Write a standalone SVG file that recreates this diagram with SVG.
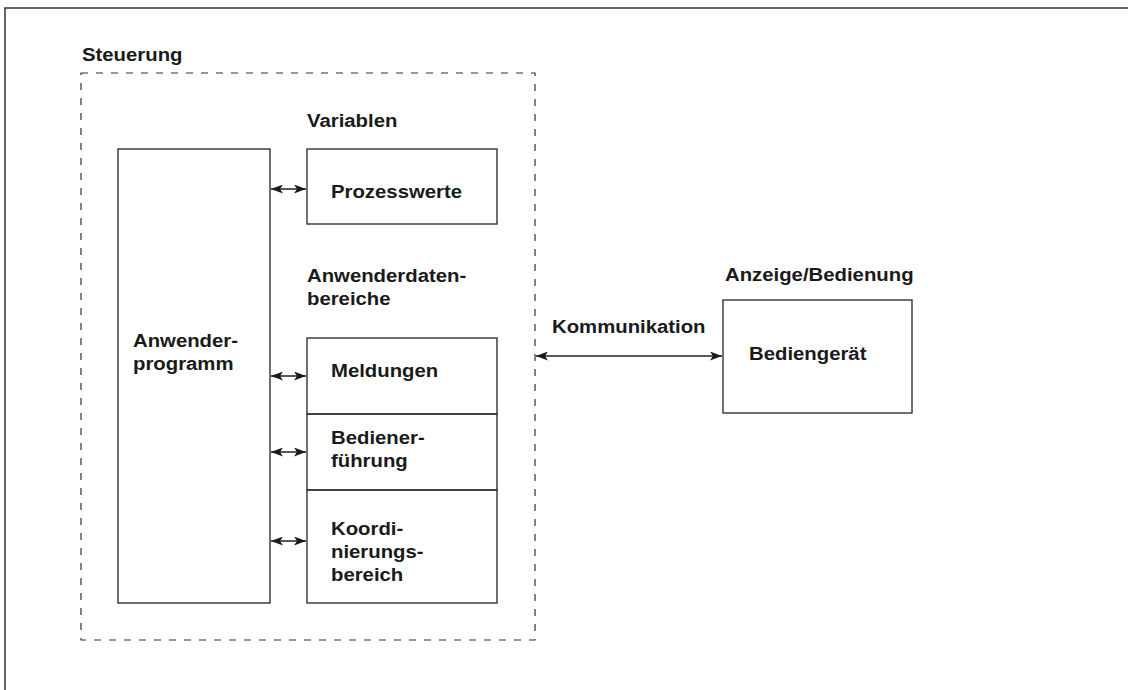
<svg xmlns="http://www.w3.org/2000/svg" width="1128" height="690" viewBox="0 0 1128 690">
<style>
.t{font-family:"Liberation Sans",Arial,sans-serif;font-weight:bold;font-size:18px;fill:#1a1a1a}
.box{fill:none;stroke:#333;stroke-width:1.4}
.dash{fill:none;stroke:#333;stroke-width:1.2;stroke-dasharray:7 8}
.con{fill:none;stroke:#222;stroke-width:1.4;marker-start:url(#ah);marker-end:url(#ah)}
</style>
<defs>
<marker id="ah" viewBox="0 0 12 9" refX="12" refY="4.5" markerWidth="12" markerHeight="9" markerUnits="userSpaceOnUse" orient="auto-start-reverse">
<path d="M0,0 L12,4.5 L0,9 L3,4.5 Z" fill="#1a1a1a"/>
</marker>
</defs>
<rect width="1128" height="690" fill="#fff"/>
<path d="M5,690 V8 H1128" fill="none" stroke="#333" stroke-width="1.5"/>
<g id="steuerung">
<rect class="dash" x="81" y="73" width="454" height="567"/>
<text class="t" transform="translate(82,61) scale(1.13,1)">Steuerung</text>
</g>
<g id="anwenderprogramm">
<rect class="box" x="118" y="149" width="152" height="454"/>
<text class="t" transform="translate(133,347) scale(1.13,1)"><tspan x="0" y="0">Anwender-</tspan><tspan x="0" y="23">programm</tspan></text>
</g>
<g id="variablen">
<text class="t" transform="translate(307,127) scale(1.13,1)">Variablen</text>
</g>
<g id="prozesswerte">
<rect class="box" x="307" y="149" width="190" height="75"/>
<text class="t" transform="translate(331,198) scale(1.13,1)">Prozesswerte</text>
</g>
<g id="anwenderdatenbereiche">
<text class="t" transform="translate(307,282) scale(1.13,1)"><tspan x="0" y="0">Anwenderdaten-</tspan><tspan x="0" y="23">bereiche</tspan></text>
</g>
<g id="meldungen">
<rect class="box" x="307" y="338" width="190" height="76"/>
<text class="t" transform="translate(331,377) scale(1.13,1)">Meldungen</text>
</g>
<g id="bedienerfuehrung">
<rect class="box" x="307" y="414" width="190" height="76"/>
<text class="t" transform="translate(331,444) scale(1.13,1)"><tspan x="0" y="0">Bediener-</tspan><tspan x="0" y="23">führung</tspan></text>
</g>
<g id="koordinierungsbereich">
<rect class="box" x="307" y="490" width="190" height="113"/>
<text class="t" transform="translate(331,535) scale(1.13,1)"><tspan x="0" y="0">Koordi-</tspan><tspan x="0" y="23">nierungs-</tspan><tspan x="0" y="46">bereich</tspan></text>
</g>
<g id="anzeige">
<text class="t" transform="translate(725,281) scale(1.13,1)">Anzeige/Bedienung</text>
</g>
<g id="bediengeraet">
<rect class="box" x="723" y="300" width="189" height="113"/>
<text class="t" transform="translate(749,360) scale(1.13,1)">Bediengerät</text>
</g>
<g id="connectors">
<line class="con" x1="271" y1="189" x2="306" y2="189"/>
<line class="con" x1="271" y1="376" x2="306" y2="376"/>
<line class="con" x1="271" y1="452" x2="306" y2="452"/>
<line class="con" x1="271" y1="541" x2="306" y2="541"/>
<line class="con" x1="536" y1="356" x2="722" y2="356"/>
<text class="t" transform="translate(552,333) scale(1.13,1)">Kommunikation</text>
</g>
</svg>
